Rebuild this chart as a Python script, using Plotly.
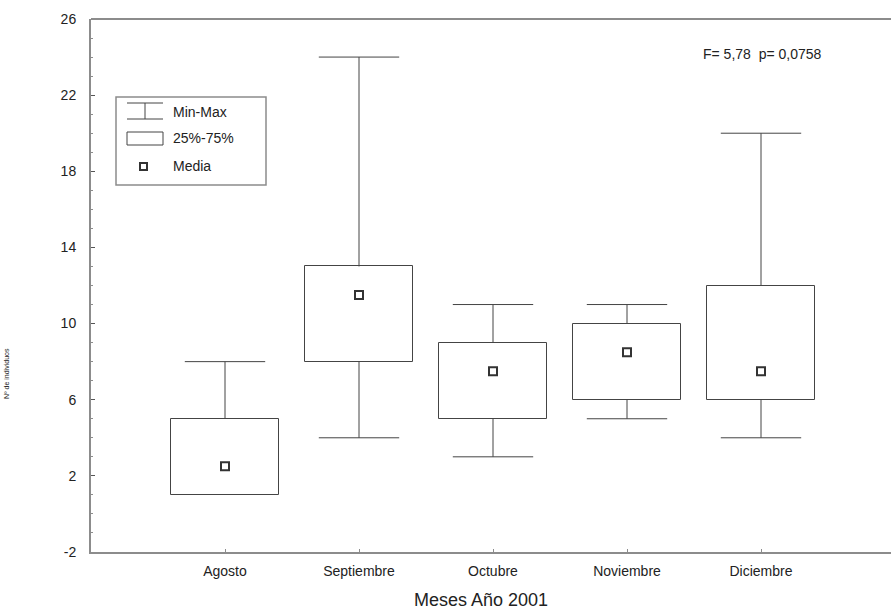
import plotly.graph_objects as go

# Monthly summary statistics
meses = ["Agosto", "Septiembre", "Octubre", "Noviembre", "Diciembre"]
minimo = [1, 4, 3, 5, 4]
q25 = [1, 8, 5, 6, 6]
q75 = [5, 13, 9, 10, 12]
maximo = [8, 24, 11, 11, 20]
media = [2.5, 11.5, 7.5, 8.5, 7.5]

y_ticks = [-2, 2, 6, 10, 14, 18, 22, 26]
y_ticktext = ["-2", "2", "6", "10", "14", "18", "22", "26"]
stat_text = "F= 5,78  p= 0,0758"

FONT = "Liberation Sans"
INK = "#222222"
LINE = "#444444"
AXIS = "#8c8c8c"

pos = list(range(len(meses)))
BOX_W = 0.8
CAP_HALF = 0.3

# plot-area geometry in pixels (used for the hand-drawn legend)
W, H = 891, 615
L, R, T, B = 91, 0, 19, 63
PW, PH = W - L - R, H - T - B


def px(x):
    return (x - L) / PW


def py(y):
    return (H - B - y) / PH


fig = go.Figure()

# 25%-75% boxes
fig.add_trace(go.Bar(
    x=pos, base=q25, y=[b - a for a, b in zip(q25, q75)],
    width=BOX_W, marker=dict(color="white", line=dict(color=LINE, width=1)),
    showlegend=False, hoverinfo="skip",
))

# whiskers with end caps, one polyline segment set per month
wx, wy = [], []
for i in pos:
    if maximo[i] > q75[i]:
        wx += [i, i, None, i - CAP_HALF, i + CAP_HALF, None]
        wy += [q75[i], maximo[i], None, maximo[i], maximo[i], None]
    if minimo[i] < q25[i]:
        wx += [i, i, None, i - CAP_HALF, i + CAP_HALF, None]
        wy += [q25[i], minimo[i], None, minimo[i], minimo[i], None]
fig.add_trace(go.Scatter(
    x=wx, y=wy, mode="lines", line=dict(color=LINE, width=1),
    connectgaps=False, showlegend=False, hoverinfo="skip",
))

# means
fig.add_trace(go.Scatter(
    x=pos, y=media, mode="markers",
    marker=dict(symbol="square-open", size=8, color="#333333",
                line=dict(width=2, color="#333333")),
    showlegend=False, hoverinfo="skip",
))

shapes = []
annotations = []

# top frame line
shapes.append(dict(type="line", xref="paper", yref="paper", x0=0, x1=1,
                   y0=1, y1=1, line=dict(color=AXIS, width=2)))

# legend frame
shapes.append(dict(type="rect", xref="paper", yref="paper",
                   x0=px(116), x1=px(266), y0=py(185), y1=py(97),
                   line=dict(color=AXIS, width=1.5), fillcolor="white"))
# Min-Max symbol
for yy in (103, 119):
    shapes.append(dict(type="line", xref="paper", yref="paper",
                       x0=px(127), x1=px(163), y0=py(yy), y1=py(yy),
                       line=dict(color=LINE, width=1)))
shapes.append(dict(type="line", xref="paper", yref="paper",
                   x0=px(145), x1=px(145), y0=py(103), y1=py(119),
                   line=dict(color=LINE, width=1)))
# 25%-75% symbol
shapes.append(dict(type="rect", xref="paper", yref="paper",
                   x0=px(127), x1=px(163), y0=py(145), y1=py(132),
                   line=dict(color=LINE, width=1)))
# Media symbol
shapes.append(dict(type="rect", xref="paper", yref="paper",
                   x0=px(140), x1=px(147), y0=py(170), y1=py(163),
                   line=dict(color="#333333", width=2)))

for label, yy in (("Min-Max", 112), ("25%-75%", 138), ("Media", 166)):
    annotations.append(dict(xref="paper", yref="paper", x=px(171), y=py(yy),
                            text=label, showarrow=False, xanchor="left",
                            yanchor="middle",
                            font=dict(family=FONT, size=14, color=INK)))

annotations.append(dict(xref="paper", yref="paper", x=px(701), y=py(54),
                        text=stat_text, showarrow=False, xanchor="left",
                        yanchor="middle",
                        font=dict(family=FONT, size=14, color=INK)))

annotations.append(dict(xref="paper", yref="paper", x=px(481), y=py(600),
                        text="Meses Año 2001", showarrow=False,
                        xanchor="center", yanchor="middle",
                        font=dict(family=FONT, size=18, color=INK)))

annotations.append(dict(xref="paper", yref="paper", x=px(6), y=py(374),
                        text="Nº de individuos", showarrow=False,
                        textangle=-90, xanchor="center", yanchor="middle",
                        font=dict(family=FONT, size=7, color=INK)))

fig.update_layout(
    width=W, height=H,
    margin=dict(l=L, r=R, t=T, b=B),
    paper_bgcolor="white", plot_bgcolor="white",
    font=dict(family=FONT, color=INK),
    showlegend=False,
    bargap=0,
    shapes=shapes,
    annotations=annotations,
    xaxis=dict(
        range=[-1, (W - 225) / 134.0], tickmode="array",
        tickvals=pos, ticktext=meses,
        showgrid=False, zeroline=False,
        showline=True, linecolor=AXIS, linewidth=2,
        ticks="inside", ticklen=3, tickcolor=AXIS,
        ticklabelstandoff=5,
        tickfont=dict(family=FONT, size=14, color=INK),
    ),
    yaxis=dict(
        range=[-2, 26], tickmode="array", tickvals=y_ticks,
        ticktext=y_ticktext,
        showgrid=False, zeroline=False,
        showline=True, linecolor=AXIS, linewidth=2,
        ticks="inside", ticklen=4, tickcolor="#555555",
        minor=dict(dtick=1, tick0=0, ticks="inside", ticklen=2,
                   tickcolor=AXIS, showgrid=False),
        ticklabelstandoff=10,
        tickfont=dict(family=FONT, size=14, color=INK),
    ),
)

fig.write_html("out.html")
